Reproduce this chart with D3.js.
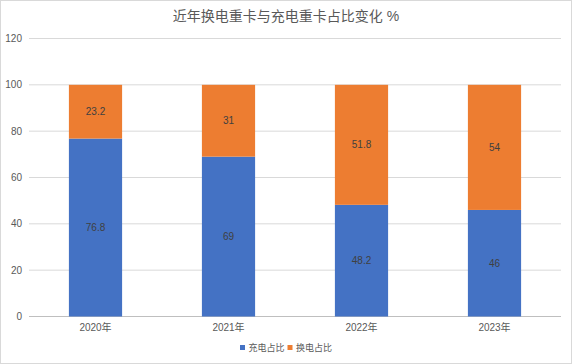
<!DOCTYPE html>
<html><head><meta charset="utf-8">
<script src="https://cdn.jsdelivr.net/npm/d3@7"></script>
<style>body{margin:0;background:#fff}svg{display:block}</style>
</head><body>
<svg id="c" width="572" height="364"></svg>
<script>
const categories = ["2020年","2021年","2022年","2023年"];
const seriesNames = ["充电占比","换电占比"];
const chargeShare = [76.8, 69, 48.2, 46];
const swapShare = [23.2, 31, 51.8, 54];
const yTicks = [0,20,40,60,80,100,120];
const colors = ["#4472C4","#ED7D31"];
const title = "近年换电重卡与充电重卡占比变化 %";

const svg = d3.select("#c");
const font = "'Liberation Sans','Noto Sans CJK SC',sans-serif";
svg.append("rect").attr("x",0.5).attr("y",0.5).attr("width",571).attr("height",363)
  .attr("fill","#fff").attr("stroke","#d9d9d9");

const x = d3.scaleBand().domain(categories).range([29,561]).padding(0);
const y = d3.scaleLinear().domain([0,120]).range([316.5,38.5]);
const bw = x.bandwidth()*0.4;

svg.append("g").selectAll("line").data(yTicks).join("line")
  .attr("x1",29).attr("x2",561)
  .attr("y1",d=>y(d)).attr("y2",d=>y(d))
  .attr("stroke",d=>d===0?"#bfbfbf":"#d9d9d9").attr("stroke-width",1);
svg.append("g").selectAll("text").data(yTicks).join("text")
  .attr("x",22).attr("y",d=>y(d)+3.5).attr("text-anchor","end")
  .attr("font-family",font).attr("font-size",10).attr("fill","#595959").text(d=>d);

const stack = categories.map((c,i)=>({c, vals:[chargeShare[i], swapShare[i]]}));
stack.forEach(s=>{
  let base=0;
  s.vals.forEach((v,k)=>{
    const g = svg.append("g");
    g.append("rect").attr("x",x(s.c)+x.bandwidth()/2-bw/2).attr("width",bw)
      .attr("y",y(base+v)).attr("height",y(base)-y(base+v)).attr("fill",colors[k]);
    g.append("text").attr("x",x(s.c)+x.bandwidth()/2).attr("y",(y(base)+y(base+v))/2+3.5)
      .attr("text-anchor","middle").attr("font-family",font).attr("font-size",10)
      .attr("fill","#404040").text(v);
    base+=v;
  });
});

svg.append("g").selectAll("text").data(categories).join("text")
  .attr("x",d=>x(d)+x.bandwidth()/2).attr("y",331).attr("text-anchor","middle")
  .attr("font-family",font).attr("font-size",10).attr("fill","#595959").text(d=>d);

svg.append("text").attr("x",286).attr("y",21).attr("text-anchor","middle")
  .attr("font-family",font).attr("font-size",14).attr("fill","#595959").text(title);

const lg = svg.append("g");
let lx = 240;
seriesNames.forEach((n,k)=>{
  lg.append("rect").attr("x",lx).attr("y",345).attr("width",5).attr("height",5).attr("fill",colors[k]);
  lg.append("text").attr("x",lx+8.5).attr("y",351).attr("font-family",font).attr("font-size",9)
    .attr("fill","#595959").text(n);
  lx += 47.5;
});
</script>
</body></html>
